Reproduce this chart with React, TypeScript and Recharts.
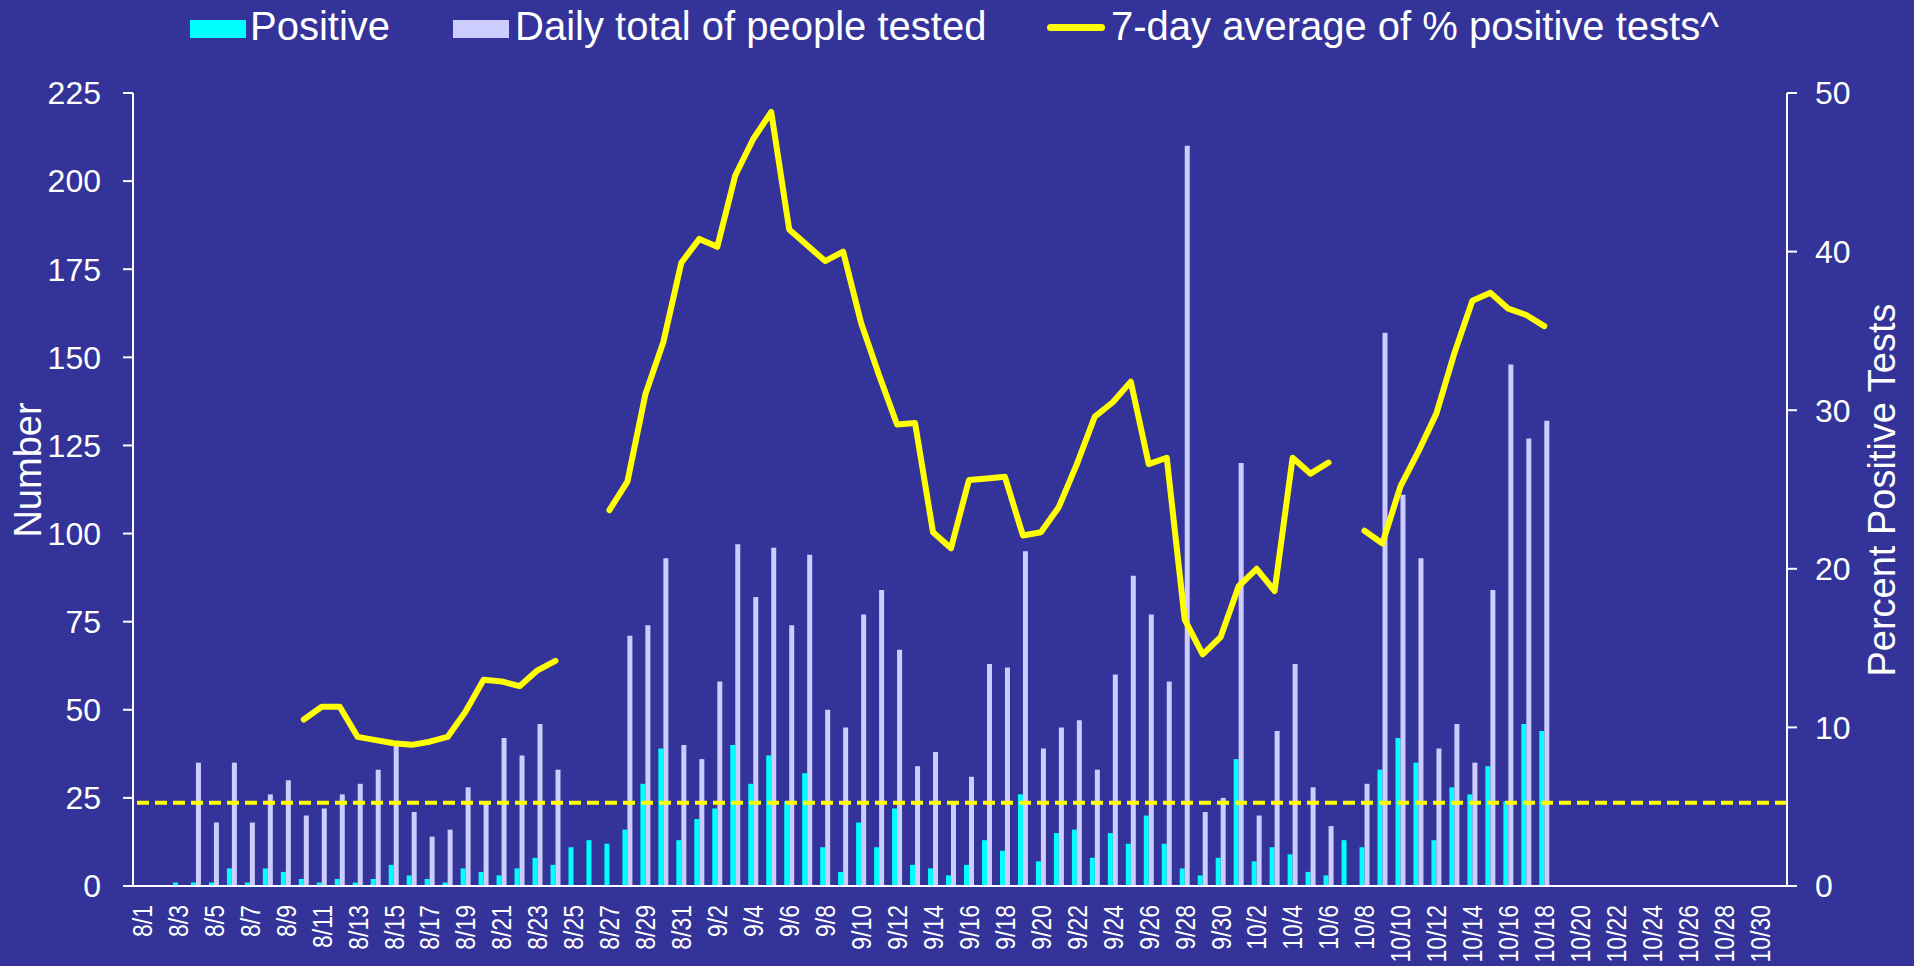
import React from "react";
import {
  ComposedChart,
  Bar,
  Line,
  XAxis,
  YAxis,
  ReferenceLine,
} from "recharts";

const dates = [
  "8/1", "8/2", "8/3", "8/4", "8/5", "8/6", "8/7", "8/8", "8/9", "8/10",
  "8/11", "8/12", "8/13", "8/14", "8/15", "8/16", "8/17", "8/18", "8/19", "8/20",
  "8/21", "8/22", "8/23", "8/24", "8/25", "8/26", "8/27", "8/28", "8/29", "8/30", "8/31",
  "9/1", "9/2", "9/3", "9/4", "9/5", "9/6", "9/7", "9/8", "9/9", "9/10",
  "9/11", "9/12", "9/13", "9/14", "9/15", "9/16", "9/17", "9/18", "9/19", "9/20",
  "9/21", "9/22", "9/23", "9/24", "9/25", "9/26", "9/27", "9/28", "9/29", "9/30",
  "10/1", "10/2", "10/3", "10/4", "10/5", "10/6", "10/7", "10/8", "10/9", "10/10",
  "10/11", "10/12", "10/13", "10/14", "10/15", "10/16", "10/17", "10/18", "10/19", "10/20",
  "10/21", "10/22", "10/23", "10/24", "10/25", "10/26", "10/27", "10/28", "10/29", "10/30", "10/31",
];

// daily positives
const positive = [
  null, null, 1, 1, 1, 5, 1, 5, 4, 2,
  1, 2, 1, 2, 6, 3, 2, 1, 5, 4,
  3, 5, 8, 6, 11, 13, 12, 16, 29, 39, 13,
  19, 22, 40, 29, 37, 24, 32, 11, 4, 18,
  11, 22, 6, 5, 3, 6, 13, 10, 26, 7,
  15, 16, 8, 15, 12, 20, 12, 5, 3, 8,
  36, 7, 11, 9, 4, 3, 13, 11, 33, 42,
  35, 13, 28, 26, 34, 24, 46, 44, null, null,
  null, null, null, null, null, null, null, null, null, null, null,
];

// daily total of people tested
const tested = [
  null, null, null, 35, 18, 35, 18, 26, 30, 20,
  22, 26, 29, 33, 40, 21, 14, 16, 28, 24,
  42, 37, 46, 33, null, null, null, 71, 74, 93, 40,
  36, 58, 97, 82, 96, 74, 94, 50, 45, 77,
  84, 67, 34, 38, 24, 31, 63, 62, 95, 39,
  45, 47, 33, 60, 88, 77, 58, 210, 21, 25,
  120, 20, 44, 63, 28, 17, null, 29, 157, 111,
  93, 39, 46, 35, 84, 148, 127, 132, null, null,
  null, null, null, null, null, null, null, null, null, null, null,
];

// 7-day average of % positive tests
const pctPositive = [
  null, null, null, null, null, null, null, null, null, 10.5,
  11.3, 11.3, 9.4, 9.2, 9.0, 8.9, 9.1, 9.4, 11.0, 13.0,
  12.9, 12.6, 13.6, 14.2, null, null, 23.7, 25.5, 31.0, 34.3, 39.3,
  40.8, 40.3, 44.8, 47.1, 48.8, 41.4, 40.4, 39.4, 40.0, 35.5,
  32.2, 29.1, 29.2, 22.3, 21.3, 25.6, 25.7, 25.8, 22.1, 22.3,
  23.9, 26.6, 29.6, 30.5, 31.8, 26.6, 27.0, 16.8, 14.6, 15.7,
  18.9, 20.0, 18.6, 27.0, 26.0, 26.7, null, 22.4, 21.6, 25.2,
  27.4, 29.8, 33.6, 36.9, 37.4, 36.4, 36.0, 35.3, null, null,
  null, null, null, null, null, null, null, null, null, null, null,
];

const leftTicks = [0, 25, 50, 75, 100, 125, 150, 175, 200, 225];
const rightTicks = [0, 10, 20, 30, 40, 50];
const targetPct = 5.25;

const chartData = dates.map((date, i) => ({
  date,
  positive: positive[i],
  tested: tested[i],
  pct: pctPositive[i],
}));

const BG = "#333399";
const FONT = "'Liberation Sans', Arial, sans-serif";

// date labels in the original are condensed, so squeeze them along the text direction
function DateTick({ x, y, payload }: any) {
  return (
    <text
      transform={`translate(${x},${y + 19}) rotate(-90) scale(0.82,1)`}
      textAnchor="end"
      dominantBaseline="central"
      fill="#fff"
      fontSize={28}
      fontFamily={FONT}
    >
      {payload.value}
    </text>
  );
}

const legendText: React.CSSProperties = {
  position: "absolute",
  top: 7,
  fontSize: 40,
  lineHeight: "39px",
  color: "#fff",
  fontFamily: FONT,
  whiteSpace: "nowrap",
};

export default function App() {
  return (
    <div
      style={{
        position: "absolute",
        left: 0,
        top: 0,
        width: 1914,
        height: 966,
        background: BG,
        overflow: "hidden",
      }}
    >
      {/* legend */}
      <div style={{ position: "absolute", left: 190, top: 20, width: 56, height: 18, background: "#00FFFF" }} />
      <div style={{ ...legendText, left: 250 }}>Positive</div>
      <div style={{ position: "absolute", left: 453, top: 20, width: 56, height: 18, background: "#CCCCFF" }} />
      <div style={{ ...legendText, left: 515 }}>Daily total of people tested</div>
      <div style={{ position: "absolute", left: 1047, top: 24, width: 58, height: 7, borderRadius: 4, background: "#FFFF00" }} />
      <div style={{ ...legendText, left: 1111 }}>7-day average of % positive tests^</div>

      {/* axis titles */}
      <div
        style={{
          position: "absolute",
          left: 28,
          top: 470,
          transform: "translate(-50%, -50%) rotate(-90deg)",
          fontSize: 38,
          color: "#fff",
          fontFamily: FONT,
          whiteSpace: "nowrap",
        }}
      >
        Number
      </div>
      <div
        style={{
          position: "absolute",
          left: 1882,
          top: 490,
          transform: "translate(-50%, -50%) rotate(-90deg)",
          fontSize: 38,
          color: "#fff",
          fontFamily: FONT,
          whiteSpace: "nowrap",
        }}
      >
        Percent Positive Tests
      </div>

      <ComposedChart
        width={1914}
        height={966}
        data={chartData}
        margin={{ top: 93, right: 47, bottom: 0, left: 53 }}
        barGap={0}
        style={{ position: "absolute", left: 0, top: 0 }}
      >
        <XAxis
          dataKey="date"
          interval={1}
          tickLine={false}
          tickSize={0}
          tickMargin={0}
          height={80}
          axisLine={{ stroke: "#fff", strokeWidth: 2 }}
          tick={<DateTick />}
        />
        <YAxis
          yAxisId="left"
          orientation="left"
          width={80}
          domain={[0, 225]}
          ticks={leftTicks}
          interval={0}
          tickSize={10}
          tickMargin={22}
          axisLine={{ stroke: "#fff", strokeWidth: 2 }}
          tickLine={{ stroke: "#fff", strokeWidth: 2 }}
          tick={{ fill: "#fff", fontSize: 32, fontFamily: FONT }}
        />
        <YAxis
          yAxisId="right"
          orientation="right"
          width={80}
          domain={[0, 50]}
          ticks={rightTicks}
          interval={0}
          tickSize={10}
          tickMargin={18}
          axisLine={{ stroke: "#fff", strokeWidth: 2 }}
          tickLine={{ stroke: "#fff", strokeWidth: 2 }}
          tick={{ fill: "#fff", fontSize: 32, fontFamily: FONT }}
        />
        <Bar
          yAxisId="left"
          dataKey="positive"
          fill="#00FFFF"
          barSize={5}
          isAnimationActive={false}
        />
        <Bar
          yAxisId="left"
          dataKey="tested"
          fill="#CCCCFF"
          barSize={5}
          isAnimationActive={false}
        />
        <ReferenceLine
          yAxisId="right"
          y={targetPct}
          stroke="#FFFF00"
          strokeWidth={4}
          strokeDasharray="12 6"
        />
        <Line
          yAxisId="right"
          dataKey="pct"
          stroke="#FFFF00"
          strokeWidth={6}
          strokeLinecap="round"
          strokeLinejoin="round"
          dot={false}
          activeDot={false}
          connectNulls={false}
          isAnimationActive={false}
        />
      </ComposedChart>
    </div>
  );
}
